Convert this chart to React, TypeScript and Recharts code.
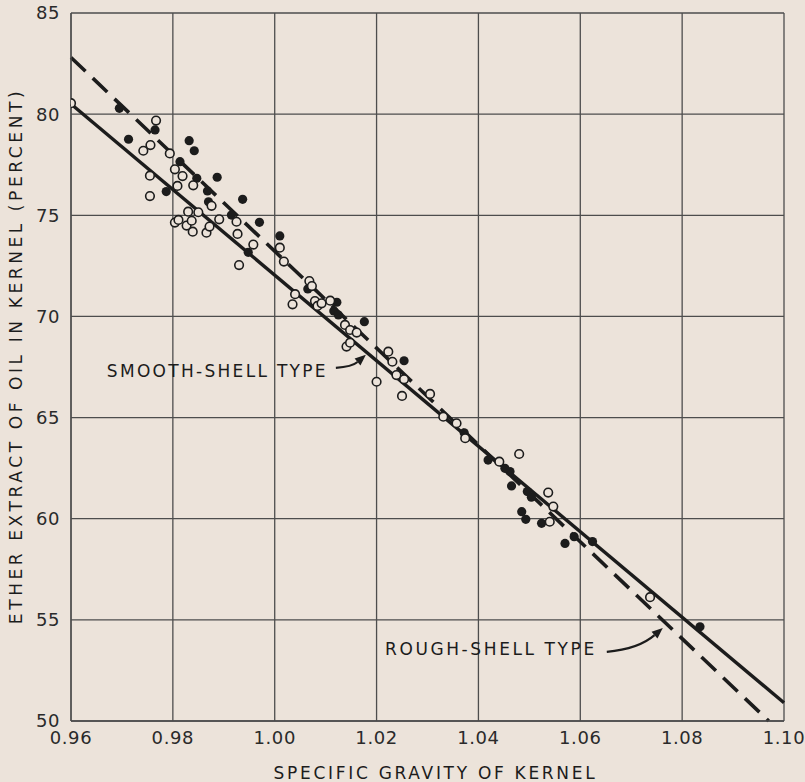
import React from 'react';
import {
  ComposedChart,
  Scatter,
  XAxis,
  YAxis,
  CartesianGrid,
  ReferenceLine,
  ReferenceDot,
} from 'recharts';

const xTicks = [0.96, 0.98, 1.0, 1.02, 1.04, 1.06, 1.08, 1.1];
const yTicks = [50, 55, 60, 65, 70, 75, 80, 85];

// open circles
const openPoints: [number, number][] = [
  [0.96, 80.54], [0.9767, 79.68], [0.9756, 78.47], [0.9742, 78.19], [0.9794, 78.06],
  [0.9804, 77.27], [0.9819, 76.94], [0.9755, 76.96], [0.9809, 76.45], [0.984, 76.48],
  [0.9755, 75.95], [0.9876, 75.47], [0.985, 75.15], [0.983, 75.18], [0.9804, 74.64],
  [0.9811, 74.77], [0.9827, 74.49], [0.9837, 74.73], [0.9839, 74.19], [0.9866, 74.14],
  [0.9872, 74.44], [0.9891, 74.8], [0.9925, 74.68], [0.9927, 74.08], [0.9958, 73.55],
  [1.001, 73.4], [1.0018, 72.71], [0.993, 72.54], [1.004, 71.1], [1.0035, 70.6],
  [1.0068, 71.75], [1.0073, 71.5], [1.0079, 70.76], [1.0084, 70.52], [1.0092, 70.65],
  [1.0109, 70.78], [1.0138, 69.58], [1.0148, 69.33], [1.0161, 69.2], [1.0141, 68.51],
  [1.0148, 68.7], [1.0223, 68.26], [1.0231, 67.76], [1.0239, 67.1], [1.0254, 66.89],
  [1.02, 66.77], [1.025, 66.07], [1.0305, 66.17], [1.0331, 65.04], [1.0357, 64.72],
  [1.0374, 63.98], [1.048, 63.2], [1.0441, 62.82], [1.0537, 61.29], [1.0547, 60.6],
  [1.054, 59.85], [1.0737, 56.12],
];

// filled circles
const filledPoints: [number, number][] = [
  [0.9695, 80.29], [0.9765, 79.22], [0.9713, 78.76], [0.9832, 78.69], [0.9842, 78.19],
  [0.9814, 77.65], [0.9887, 76.88], [0.9847, 76.83], [0.9868, 76.2], [0.9787, 76.17],
  [0.9937, 75.79], [0.987, 75.67], [0.9915, 75.01], [0.997, 74.65], [1.001, 73.98],
  [0.9948, 73.17], [1.0065, 71.36], [1.0122, 70.7], [1.0116, 70.27], [1.0125, 70.07],
  [1.0176, 69.74], [1.0254, 67.81], [1.0372, 64.25], [1.0419, 62.9], [1.0462, 62.33],
  [1.0452, 62.49], [1.0465, 61.62], [1.0496, 61.34], [1.0504, 61.06], [1.0485, 60.35],
  [1.0493, 59.97], [1.0524, 59.77], [1.0588, 59.11], [1.057, 58.78], [1.0624, 58.87],
  [1.0835, 54.66],
];

// fitted lines, end points
const smoothLine = [{ x: 0.96, y: 80.5 }, { x: 1.1, y: 50.9 }];
const roughLine = [{ x: 0.96, y: 82.8 }, { x: 1.097, y: 50 }];

// arrow tips of the two notes
const smoothTip = { x: 1.0179, y: 68.1 };
const roughTip = { x: 1.0762, y: 54.6 };

const BG = '#ece3da';
const INK = '#1c1c1c';
const GRID = '#4d4d4d';
const FONT = '"DejaVu Sans", sans-serif';

const toObj = (pts: [number, number][]) => pts.map(([x, y]) => ({ x, y }));

const OpenDot = (p: any) => (
  <circle cx={p.cx} cy={p.cy} r={4.3} fill={BG} stroke={INK} strokeWidth={1.6} />
);
const FilledDot = (p: any) => <circle cx={p.cx} cy={p.cy} r={4.6} fill={INK} />;

const Arrow = ({ cx, cy, sx, sy, qx, qy }: any) => {
  // arrow head pointing from control point to tip
  const ang = Math.atan2(-qy, -qx);
  const L = 11;
  const W = 4.5;
  const bx = cx - L * Math.cos(ang);
  const by = cy - L * Math.sin(ang);
  const px = -Math.sin(ang) * W;
  const py = Math.cos(ang) * W;
  return (
    <g>
      <path
        d={`M ${cx + sx} ${cy + sy} Q ${cx + qx} ${cy + qy} ${bx} ${by}`}
        fill="none"
        stroke={INK}
        strokeWidth={2.2}
      />
      <polygon points={`${cx},${cy} ${bx + px},${by + py} ${bx - px},${by - py}`} fill={INK} />
    </g>
  );
};

const SmoothNote = (p: any) => (
  <g>
    <text
      x={p.cx - 38}
      y={p.cy + 22}
      textAnchor="end"
      fontFamily={FONT}
      fontSize={17}
      letterSpacing={2.3}
      fill={INK}
    >
      SMOOTH-SHELL TYPE
    </text>
    <Arrow cx={p.cx} cy={p.cy} sx={-30} sy={13} qx={-14} qy={12} />
  </g>
);

const RoughNote = (p: any) => (
  <g>
    <text
      x={p.cx - 66}
      y={p.cy + 27}
      textAnchor="end"
      fontFamily={FONT}
      fontSize={17}
      letterSpacing={2.6}
      fill={INK}
    >
      ROUGH-SHELL TYPE
    </text>
    <Arrow cx={p.cx} cy={p.cy} sx={-56} sy={24} qx={-24} qy={21} />
  </g>
);

export default function App() {
  const tickStyle = { fontSize: 18, fill: '#2a2a2a', fontFamily: FONT, letterSpacing: 0.6 };
  return (
    <div style={{ position: 'absolute', left: 0, top: 0, width: 805, height: 782, background: BG }}>
      <ComposedChart width={805} height={782} margin={{ top: 13, right: 21, bottom: 0, left: 0 }}>
        <CartesianGrid stroke={GRID} strokeWidth={1.3} />
        <XAxis
          dataKey="x"
          type="number"
          domain={[0.96, 1.1]}
          ticks={xTicks}
          tickFormatter={(v: number) => v.toFixed(2)}
          allowDataOverflow
          height={61}
          tickSize={0}
          tickMargin={10}
          tick={tickStyle}
          axisLine={{ stroke: GRID, strokeWidth: 1.3 }}
          tickLine={false}
          label={(props: any) => {
            const vb = props.viewBox;
            return (
              <text
                x={vb.x + vb.width / 2 + 8}
                y={vb.y + 58}
                textAnchor="middle"
                fontFamily={FONT}
                fontSize={17}
                letterSpacing={2.7}
                fill={INK}
              >
                SPECIFIC  GRAVITY OF KERNEL
              </text>
            );
          }}
        />
        <YAxis
          dataKey="y"
          type="number"
          domain={[50, 85]}
          ticks={yTicks}
          allowDataOverflow
          width={71}
          tickSize={0}
          tickMargin={11}
          tick={tickStyle}
          axisLine={{ stroke: GRID, strokeWidth: 1.3 }}
          tickLine={false}
          label={(props: any) => {
            const vb = props.viewBox;
            const cy = vb.y + vb.height / 2 - 11;
            return (
              <text
                x={16}
                y={cy}
                transform={`rotate(-90 16 ${cy})`}
                textAnchor="middle"
                dominantBaseline="central"
                fontFamily={FONT}
                fontSize={17}
                letterSpacing={3.6}
                fill={INK}
              >
                ETHER EXTRACT OF OIL IN KERNEL (PERCENT)
              </text>
            );
          }}
        />
        <ReferenceLine segment={roughLine} stroke={INK} strokeWidth={3.6} strokeDasharray="20 10" />
        <ReferenceLine segment={smoothLine} stroke={INK} strokeWidth={3.4} />
        <Scatter data={toObj(filledPoints)} shape={FilledDot} isAnimationActive={false} />
        <Scatter data={toObj(openPoints)} shape={OpenDot} isAnimationActive={false} />
        <ReferenceDot x={smoothTip.x} y={smoothTip.y} r={1} shape={SmoothNote} />
        <ReferenceDot x={roughTip.x} y={roughTip.y} r={1} shape={RoughNote} />
      </ComposedChart>
    </div>
  );
}
